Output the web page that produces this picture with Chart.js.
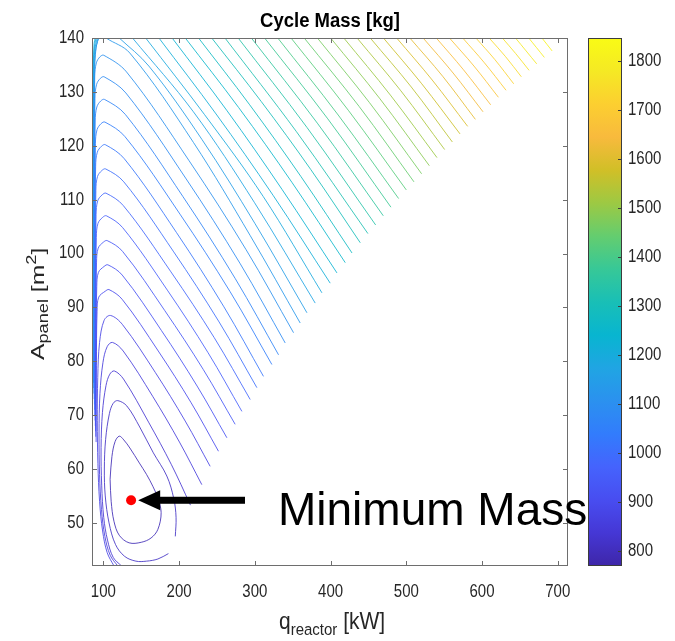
<!DOCTYPE html>
<html>
<head>
<meta charset="utf-8">
<title>Cycle Mass [kg]</title>
<script src="https://cdn.jsdelivr.net/npm/chart.js@4.4.1/dist/chart.umd.min.js"></script>
<style>
  html, body { margin: 0; padding: 0; background: #fff; }
  canvas { display: block; }
</style>
</head>
<body>
<canvas id="massChart" width="675" height="641"></canvas>
<script>
// Axis ranges and tick labels
const Q_RANGE = [85, 713.5];        // q_reactor [kW]
const A_RANGE = [42, 140];          // A_panel [m^2]
const MASS_RANGE = [769, 1846];     // colour bar [kg]
const Q_TICKS = [100, 200, 300, 400, 500, 600, 700];
const A_TICKS = [50, 60, 70, 80, 90, 100, 110, 120, 130, 140];
const MASS_TICKS = [800, 900, 1000, 1100, 1200, 1300, 1400, 1500, 1600, 1700, 1800];

// Contour levels [kg], lowest (inner loop) to highest (top right)
const LEVELS = [790.1, 811.2, 832.3, 853.4, 874.5, 895.6, 916.7, 937.8, 958.9, 980.0,
  1001.1, 1022.2, 1043.3, 1064.4, 1085.5, 1106.6, 1127.7, 1148.8, 1169.9, 1191.0,
  1212.1, 1233.2, 1254.3, 1275.4, 1296.5, 1317.6, 1338.7, 1359.8, 1380.9, 1402.0,
  1423.1, 1444.2, 1465.3, 1486.4, 1507.5, 1528.6, 1549.7, 1570.8, 1591.9, 1613.0,
  1634.1, 1655.2, 1676.3, 1697.4, 1718.5, 1739.6, 1760.7, 1781.8, 1802.9, 1824.0];

// Loops round the minimum (levels 0-1), [q, A]
const LOOP_PATHS = [
  [[108.9,58.1],[110.3,54],[114,50.3],[121,47.7],[134,46.3],[150,46.4],[163,47.2],[172,48.8],[176.3,51.9],[172,54.6],[165.3,56.8],[157,59],[147.6,61.1],[135,63.9],[127,65.4],[121,66.1],[115.5,65.1],[111.3,62.3],[108.9,58.1]],
  [[185.9,44.3],[172,43.3],[157,42.9],[143,42.9],[128,43.8],[116,46],[107.5,50],[102.5,55],[101.3,60],[103,65.5],[108,70.3],[113,72.2],[119,72.7],[131,71.7],[148,67.8],[166,63],[183.8,58.7],[193,54.5],[196,51],[195,47.5]]
];

// Arcs with their peak inside the frame (levels 2-15)
const ARC_PATHS = [
  [[124,42],[113,43.6],[105.5,46.8],[100.5,51],[97.8,57],[97,64],[98.8,70.5],[103.5,75.5],[108.5,77.6],[114.5,78.2],[126.6,76.7],[159.7,68.7],[189.9,60.8],[215.0,53.3]],
  [[119,42],[109,44],[102,47.5],[97.5,52.5],[95,59],[94.3,66.5],[95.5,74],[99.5,79.8],[105,82.7],[112,83.5],[126.2,81.9],[165.1,73.5],[200.5,65.0],[230.0,57.1]],
  [[114,42],[105,44.5],[99,48.5],[95,54],[92.8,61],[92,69],[92.6,77],[95,83.5],[101,87.6],[109.5,88.5],[125.3,86.8],[168.7,77.9],[208.1,68.9],[241.0,60.5]],
  [[90.4,65],[90.8,79.2],[91.7,89.3],[93.9,91.9],[102.5,93.0],[107.5,93.3],[124.8,91.5],[172.5,81.9],[215.9,72.3],[252.0,63.3]],
  [[90,66],[90.4,82],[91.3,93.9],[93.5,96.5],[101,97.6],[106,97.9],[124.9,96.0],[176.7,85.7],[223.8,75.4],[263.1,65.8]],
  [[89.7,67],[90.1,84.7],[91,98.4],[93.2,101],[100,102.1],[105,102.4],[125.3,100.4],[181.1,89.4],[231.8,78.5],[274.0,68.3]],
  [[89.4,68],[89.8,87.5],[90.7,103],[92.9,105.6],[99,106.7],[104,107],[125.5,104.8],[184.5,93.2],[238.2,81.6],[282.9,70.7]],
  [[89.1,69],[89.5,90.1],[90.4,107.2],[92.6,109.8],[98.5,110.9],[103.5,111.2],[126.3,108.9],[189.2,96.6],[246.3,84.4],[293.9,72.9]],
  [[88.8,70],[89.2,92.9],[90.1,111.7],[92.3,114.3],[98,115.4],[103,115.7],[127,113.3],[192.9,100.3],[252.8,87.3],[302.7,75.1]],
  [[88.5,71],[88.9,95.6],[89.8,116.2],[92,118.8],[97.5,119.9],[102.5,120.2],[127.6,117.6],[196.5,103.9],[259.2,90.1],[311.4,77.2]],
  [[88.2,72],[88.6,98.2],[89.5,120.4],[91.7,123],[97,124.1],[102,124.4],[128.5,121.7],[201.2,107.3],[267.4,92.9],[322.5,79.4]],
  [[87.9,73],[88.3,100.8],[89.2,124.6],[91.4,127.2],[96.5,128.3],[101.5,128.6],[129.1,125.8],[204.9,110.6],[273.9,95.4],[331.3,81.2]],
  [[87.6,74],[88,103.4],[88.9,128.8],[91.1,131.4],[96,132.5],[101,132.8],[129.7,129.8],[208.6,114.0],[280.3,98.2],[340.1,83.4]],
  [[87.3,75],[87.7,105.9],[88.6,132.8],[90.8,135.4],[95.5,136.5],[100.5,136.8],[130.6,133.7],[213.3,117.2],[288.5,100.7],[351.1,85.3]]
];

// Lines leaving through the top edge (levels 16-49)
const TOP_PATHS = [
  [[87.0,76],[87.4,108],[88.3,133],[90.5,138.3],[95,140.3],[99.5,140.6],[103.6,140],[135,137.2],[219,120.6],[294,103.3],[359.9,87.1]],
  [[121,140],[160,134.8],[230,121.2],[300,105.6],[368.8,89.0]],
  [[138.5,140],[218.9,126.3],[299.3,109.5],[379.7,90.8]],
  [[155.9,140],[233.5,125.8],[311.0,110.6],[388.6,92.7]],
  [[173.4,140],[248.8,125.9],[324.1,110.8],[399.5,94.5]],
  [[190.8,140],[263.3,126.5],[335.9,111.9],[408.4,96.4]],
  [[208.2,140],[278.6,127.1],[349.0,113.2],[419.4,98.3]],
  [[225.7,140],[293.2,127.6],[360.8,114.3],[428.3,100.1]],
  [[243.1,140],[308.5,128.2],[373.8,115.6],[439.2,102.0]],
  [[260.6,140],[355.0,122.6],[449.3,103.7]],
  [[278.0,140],[368.8,123.4],[459.5,105.3]],
  [[295.4,140],[382.5,124.2],[469.6,107.0]],
  [[312.9,140],[396.3,125.0],[479.7,108.6]],
  [[330.3,140],[410.1,125.7],[489.9,110.2]],
  [[347.8,140],[423.9,126.5],[500.0,111.8]],
  [[365.2,140],[437.7,127.3],[510.1,113.3]],
  [[382.6,140],[451.4,128.0],[520.2,114.8]],
  [[400.1,140],[465.3,128.7],[530.4,116.3]],
  [[417.5,140],[479.0,129.4],[540.5,117.8]],
  [[435.0,140],[492.8,130.2],[550.6,119.3]],
  [[452.4,140],[506.6,130.9],[560.8,120.7]],
  [[469.8,140],[520.4,131.5],[570.9,122.2]],
  [[487.3,140],[534.2,132.2],[581.0,123.6]],
  [[504.7,140],[548.0,132.9],[591.2,124.9]],
  [[522.2,140],[561.8,133.5],[601.3,126.3]],
  [[539.6,140],[575.5,134.1],[611.4,127.6]],
  [[557.0,140],[589.3,134.8],[621.6,129.0]],
  [[574.5,140],[603.1,135.4],[631.7,130.3]],
  [[591.9,140],[616.9,136.0],[641.8,131.5]],
  [[609.4,140],[630.7,136.6],[651.9,132.8]],
  [[626.8,140],[644.5,137.1],[662.1,134.0]],
  [[644.2,140],[658.2,137.6],[672.2,135.2]],
  [[661.7,140],[672.0,138.2],[682.3,136.4]],
  [[679.1,140],[685.8,138.8],[692.5,137.6]]
];

// Left-hand legs of levels 17-20 that also leave through the top
const LEFT_LEGS = [
  [[86.7,77],[87.1,110],[87.8,132],[89.5,137.5],[93.5,140]],
  [[86.4,78],[86.8,112],[87.4,133],[88.8,138],[92,140]],
  [[86.1,79],[86.5,114],[87.1,134],[88.3,138.5],[90.5,140]],
  [[85.8,80],[86.2,116],[86.8,135],[87.8,139],[89.2,140]]
];

// Marked optimum and its arrow
const MIN_POINT = [136.6, 54.2];
const ARROW_TAIL_Q = 287;
const ARROW_BASE_Q = 175;
const ARROW_TIP_Q = 146;

// parula colour map stops
const PARULA = [[62,38,168],[69,55,213],[72,77,240],[69,99,253],[50,124,252],[43,145,239],
  [32,165,227],[8,181,208],[25,191,182],[55,200,151],[100,205,111],[157,201,67],
  [209,191,39],[248,186,61],[252,207,48],[245,233,36],[249,251,21]];

const FONT = '"Liberation Sans", Arial, Helvetica, sans-serif';
const AXIS_COLOR = '#6e6e6e';
const TEXT_COLOR = '#262626';

function parula(v, alpha = 1) {
  const t = Math.min(1, Math.max(0, (v - MASS_RANGE[0]) / (MASS_RANGE[1] - MASS_RANGE[0])));
  const f = t * (PARULA.length - 1);
  const i = Math.min(PARULA.length - 2, Math.floor(f));
  const r = f - i;
  const c = PARULA[i].map((a, k) => Math.round(a + (PARULA[i + 1][k] - a) * r));
  return `rgba(${c[0]},${c[1]},${c[2]},${alpha})`;
}

const datasets = [{
  data: [{ x: MIN_POINT[0], y: MIN_POINT[1] }],
  pointRadius: 5,
  pointBackgroundColor: '#ff0000',
  pointBorderWidth: 0,
  showLine: false,
  yAxisID: 'y'
}];

function addPath(path, level) {
  datasets.push({
    data: path.map(([x, y]) => ({ x, y })),
    showLine: true,
    borderColor: parula(level, 0.85),
    borderWidth: 1,
    pointRadius: 0,
    tension: 0.35,
    fill: false,
    yAxisID: 'y'
  });
}
LOOP_PATHS.forEach((p, i) => addPath(p, LEVELS[i]));
ARC_PATHS.forEach((p, i) => addPath(p, LEVELS[i + 2]));
TOP_PATHS.forEach((p, i) => addPath(p, LEVELS[i + 16]));
LEFT_LEGS.forEach((p, i) => addPath(p, LEVELS[i + 17]));

function stretchedText(ctx, text, x, y, font, align, baseline, sy) {
  ctx.save();
  ctx.translate(x, y);
  ctx.scale(1, sy);
  ctx.font = font;
  ctx.textAlign = align;
  ctx.textBaseline = baseline;
  ctx.fillText(text, 0, 0);
  ctx.restore();
}

// Box, inward ticks, labels, colour bar and the annotation
const framePlugin = {
  id: 'frame',
  afterDraw(chart) {
    const { ctx, chartArea: ca, scales: { x, y, cb } } = chart;
    ctx.save();

    // axes box
    ctx.strokeStyle = AXIS_COLOR;
    ctx.lineWidth = 1;
    ctx.strokeRect(ca.left + 0.5, ca.top + 0.5, ca.width - 1, ca.height - 1);

    // inward ticks on all four sides
    ctx.beginPath();
    Q_TICKS.forEach(v => {
      const px = Math.round(x.getPixelForValue(v)) + 0.5;
      ctx.moveTo(px, ca.bottom); ctx.lineTo(px, ca.bottom - 5);
      ctx.moveTo(px, ca.top); ctx.lineTo(px, ca.top + 5);
    });
    A_TICKS.forEach(v => {
      const py = Math.round(y.getPixelForValue(v)) + 0.5;
      ctx.moveTo(ca.left, py); ctx.lineTo(ca.left + 5, py);
      ctx.moveTo(ca.right, py); ctx.lineTo(ca.right - 5, py);
    });
    ctx.stroke();

    // tick labels
    ctx.fillStyle = TEXT_COLOR;
    const tickFont = `15px ${FONT}`;
    Q_TICKS.forEach(v => stretchedText(ctx, String(v), x.getPixelForValue(v), ca.bottom + 26, tickFont, 'center', 'middle', 1.2));
    A_TICKS.forEach(v => stretchedText(ctx, String(v), ca.left - 8, y.getPixelForValue(v), tickFont, 'right', 'middle', 1.2));

    // colour bar
    const cbL = ca.right + 20, cbW = 34;
    const grad = ctx.createLinearGradient(0, cb.bottom, 0, cb.top);
    PARULA.forEach((c, i) => grad.addColorStop(i / (PARULA.length - 1), `rgb(${c[0]},${c[1]},${c[2]})`));
    ctx.fillStyle = grad;
    ctx.fillRect(cbL, cb.top, cbW, cb.bottom - cb.top);
    ctx.strokeStyle = '#3c3c3c';
    ctx.strokeRect(cbL + 0.5, cb.top + 0.5, cbW - 1, cb.bottom - cb.top - 1);
    ctx.beginPath();
    MASS_TICKS.forEach(v => {
      const py = Math.round(cb.getPixelForValue(v)) + 0.5;
      ctx.moveTo(cbL + cbW, py); ctx.lineTo(cbL + cbW - 4, py);
    });
    ctx.stroke();
    ctx.fillStyle = TEXT_COLOR;
    MASS_TICKS.forEach(v => stretchedText(ctx, String(v), cbL + cbW + 6, cb.getPixelForValue(v), tickFont, 'left', 'middle', 1.2));

    // title
    ctx.fillStyle = '#000';
    stretchedText(ctx, 'Cycle Mass [kg]', (ca.left + ca.right) / 2, 21, `bold 18.5px ${FONT}`, 'center', 'middle', 1.12);

    // x axis title: q_reactor [kW]
    ctx.fillStyle = TEXT_COLOR;
    ctx.save();
    ctx.translate(279, 629);
    ctx.scale(1, 1.1);
    ctx.textBaseline = 'alphabetic';
    ctx.textAlign = 'left';
    let cx = 0;
    ctx.font = `21px ${FONT}`;
    ctx.fillText('q', cx, 0); cx += ctx.measureText('q').width;
    ctx.font = `15px ${FONT}`;
    ctx.fillText('reactor', cx, 5); cx += ctx.measureText('reactor').width;
    ctx.font = `21px ${FONT}`;
    ctx.fillText(' [kW]', cx, 0);
    ctx.restore();

    // y axis title: A_panel [m^2]
    ctx.save();
    ctx.translate(43.5, 360);
    ctx.rotate(-Math.PI / 2);
    ctx.scale(1.3, 1);
    ctx.textBaseline = 'alphabetic';
    ctx.textAlign = 'left';
    cx = 0;
    ctx.font = `19px ${FONT}`;
    ctx.fillText('A', cx, 0); cx += ctx.measureText('A').width;
    ctx.font = `14px ${FONT}`;
    ctx.fillText('panel', cx, 4); cx += ctx.measureText('panel').width;
    ctx.font = `19px ${FONT}`;
    ctx.fillText(' [m', cx, 0); cx += ctx.measureText(' [m').width;
    ctx.font = `14px ${FONT}`;
    ctx.fillText('2', cx, -8); cx += ctx.measureText('2').width;
    ctx.font = `19px ${FONT}`;
    ctx.fillText(']', cx, 0);
    ctx.restore();

    // arrow pointing at the minimum
    const ay = y.getPixelForValue(MIN_POINT[1]);
    const xTail = x.getPixelForValue(ARROW_TAIL_Q);
    const xBase = x.getPixelForValue(ARROW_BASE_Q);
    const xTip = x.getPixelForValue(ARROW_TIP_Q);
    ctx.fillStyle = '#000';
    ctx.fillRect(xBase - 1, ay - 3.5, xTail - xBase + 1, 7);
    ctx.beginPath();
    ctx.moveTo(xTip, ay);
    ctx.lineTo(xBase, ay - 10);
    ctx.lineTo(xBase, ay + 10);
    ctx.closePath();
    ctx.fill();

    ctx.font = `46px ${FONT}`;
    ctx.textAlign = 'left';
    ctx.textBaseline = 'alphabetic';
    ctx.fillText('Minimum Mass', xTail + 33, ay + 24.5);

    ctx.restore();
  }
};

const hidden = {
  grid: { display: false, drawTicks: false },
  border: { display: false },
  ticks: { display: false }
};

new Chart(document.getElementById('massChart'), {
  type: 'scatter',
  data: { datasets },
  options: {
    responsive: false,
    animation: false,
    events: [],
    layout: { padding: { left: 92, right: 0, top: 38, bottom: 75 } },
    plugins: { legend: { display: false }, tooltip: { enabled: false } },
    scales: {
      x: { type: 'linear', min: Q_RANGE[0], max: Q_RANGE[1], ...hidden, afterFit: s => { s.height = 0; } },
      y: { type: 'linear', min: A_RANGE[0], max: A_RANGE[1], ...hidden, afterFit: s => { s.width = 0; } },
      cb: { type: 'linear', position: 'right', min: MASS_RANGE[0], max: MASS_RANGE[1], ...hidden, afterFit: s => { s.width = 107; } }
    }
  },
  plugins: [framePlugin]
});
</script>
</body>
</html>
